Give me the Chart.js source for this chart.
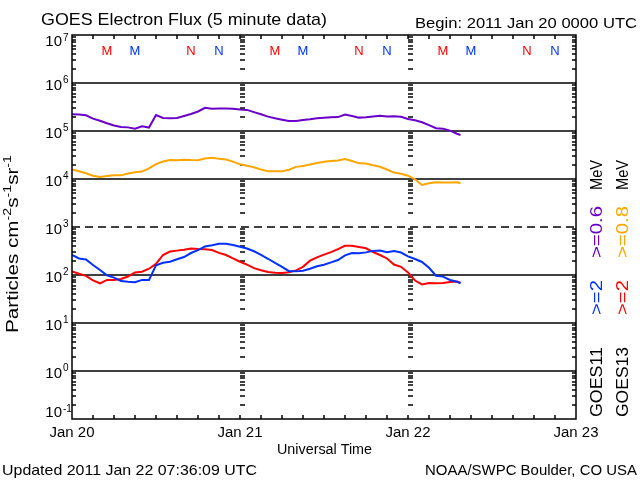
<!DOCTYPE html>
<html>
<head>
<meta charset="utf-8">
<title>GOES Electron Flux</title>
<script src="https://cdn.jsdelivr.net/npm/chart.js@4"></script>
<style>
  html, body { margin: 0; padding: 0; background: #fff; }
  canvas { display: block; }
</style>
</head>
<body>
<canvas id="flux" width="640" height="480"></canvas>
<script>
// Hours since 2011 Jan 20 00:00 UTC
const hours = [0, 1, 2, 3, 4, 5, 6, 7, 8, 9, 10, 11, 12, 13, 14, 15, 16, 17, 18, 19,
    20, 21, 22, 23, 24, 25, 26, 27, 28, 29, 30, 31, 32, 33, 34, 35, 36, 37, 38, 39,
    40, 41, 42, 43, 44, 45, 46, 47, 48, 49, 50, 51, 52, 53, 54, 55, 55.5];

// GOES11 >=0.6 MeV (purple)
const goes11Low = [2.23e5, 2.20e5, 2.13e5, 1.81e5, 1.64e5, 1.45e5, 1.30e5, 1.21e5, 1.19e5, 1.12e5,
    1.25e5, 1.18e5, 2.15e5, 1.87e5, 1.84e5, 1.87e5, 2.05e5, 2.26e5, 2.55e5, 3.04e5,
    2.92e5, 2.96e5, 2.96e5, 2.92e5, 2.79e5, 2.75e5, 2.47e5, 2.23e5, 1.99e5, 1.84e5,
    1.72e5, 1.62e5, 1.62e5, 1.69e5, 1.75e5, 1.84e5, 1.88e5, 1.93e5, 1.95e5, 2.20e5,
    2.05e5, 1.90e5, 1.93e5, 2.01e5, 2.08e5, 2.00e5, 2.03e5, 1.98e5, 1.78e5, 1.67e5,
    1.52e5, 1.33e5, 1.14e5, 1.12e5, 1.02e5, 8.75e4, 8.25e4];

// GOES13 >=0.8 MeV (orange)
const goes13Low = [1.58e4, 1.45e4, 1.32e4, 1.17e4, 1.10e4, 1.15e4, 1.19e4, 1.19e4, 1.30e4, 1.38e4,
    1.43e4, 1.66e4, 2.05e4, 2.32e4, 2.48e4, 2.47e4, 2.51e4, 2.48e4, 2.47e4, 2.67e4,
    2.77e4, 2.65e4, 2.55e4, 2.30e4, 2.02e4, 1.88e4, 1.75e4, 1.57e4, 1.45e4, 1.45e4,
    1.45e4, 1.56e4, 1.79e4, 1.87e4, 2.01e4, 2.15e4, 2.28e4, 2.37e4, 2.44e4, 2.60e4,
    2.37e4, 2.12e4, 2.10e4, 1.93e4, 1.80e4, 1.58e4, 1.36e4, 1.29e4, 1.17e4, 9.86e3,
    7.50e3, 8.13e3, 8.53e3, 8.45e3, 8.45e3, 8.58e3, 8.13e3];

// GOES11 >=2 MeV (blue)
const goes11High = [261, 221, 210, 162, 127, 98.6, 88.3, 74.6, 72.2, 70.8,
    79.1, 79, 159, 180, 189, 213, 237, 287, 329, 394,
    418, 449, 449, 422, 389, 357, 312, 262, 218, 178,
    148, 120, 119, 123, 135, 152, 163, 183, 205, 256,
    287, 283, 296, 318, 324, 297, 316, 294, 244, 215,
    187, 141, 96.7, 92.6, 78.7, 72.2, 67.2];

// GOES13 >=2 MeV (red)
const goes13High = [118, 106, 96.2, 77.2, 67.2, 79, 79, 82.5, 93.1, 113,
    117, 135, 170, 261, 309, 322, 335, 358, 347, 345,
    332, 289, 261, 221, 189, 165, 139, 126, 116, 111,
    110, 114, 125, 148, 199, 233, 265, 299, 345, 406,
    408, 383, 360, 301, 261, 221, 165, 148, 113, 76.8,
    63.7, 68.1, 67.2, 68.1, 71.5, 72.9, 69.2];

const dayHours = [0, 24, 48, 72];
const dayLabels = ['Jan 20', 'Jan 21', 'Jan 22', 'Jan 23'];
const decades = [-1, 0, 1, 2, 3, 4, 5, 6, 7];

// local midnight (M) / noon (N) markers for each satellite
const markHours = [5, 9, 17, 21, 29, 33, 41, 45, 53, 57, 65, 69];
const markText = ['M', 'M', 'N', 'N', 'M', 'M', 'N', 'N', 'M', 'M', 'N', 'N'];
const markSat = [13, 11, 13, 11, 13, 11, 13, 11, 13, 11, 13, 11];

const COLORS = {
    purple: '#6a00c8',
    orange: '#ffa500',
    blue: '#0030ff',
    red: '#ff0000'
};

const FONT = '"Liberation Sans", Arial, sans-serif';

function toPoints(vals) {
    return vals.map((v, i) => ({ x: hours[i], y: v }));
}

// draw text squeezed/stretched to a given width
function fitText(ctx, text, x, y, width, align) {
    const w = ctx.measureText(text).width;
    let left = x;
    if (align === 'right') left = x - width;
    if (align === 'center') left = x - width / 2;
    ctx.save();
    ctx.translate(left, y);
    ctx.scale(width / w, 1);
    ctx.textAlign = 'left';
    ctx.fillText(text, 0, 0);
    ctx.restore();
}

// rotated (bottom to top) text between two screen y positions
function rotText(ctx, text, xBase, yBottom, yTop) {
    const w = ctx.measureText(text).width;
    ctx.save();
    ctx.translate(xBase, yBottom);
    ctx.rotate(-Math.PI / 2);
    ctx.scale((yBottom - yTop) / w, 1);
    ctx.textAlign = 'left';
    ctx.fillText(text, 0, 0);
    ctx.restore();
}

function hLine(ctx, x1, x2, y) {
    ctx.beginPath();
    ctx.moveTo(x1, y);
    ctx.lineTo(x2, y);
    ctx.stroke();
}

function vLine(ctx, x, y1, y2) {
    ctx.beginPath();
    ctx.moveTo(x, y1);
    ctx.lineTo(x, y2);
    ctx.stroke();
}

const fluxFrame = {
    id: 'fluxFrame',
    beforeDatasetsDraw(chart) {
        const { ctx, chartArea: a, scales: { x, y } } = chart;
        ctx.save();
        ctx.strokeStyle = '#000';
        ctx.lineWidth = 1.5;

        // decade lines, 10^3 dashed
        for (let e = 0; e <= 6; e++) {
            const py = Math.round(y.getPixelForValue(Math.pow(10, e)));
            ctx.setLineDash(e === 3 ? [8, 5] : []);
            hLine(ctx, a.left, a.right, py);
        }
        ctx.setLineDash([]);

        // minor log ticks on left/right and at day boundaries
        for (let e = -1; e < 7; e++) {
            for (let m = 2; m <= 9; m++) {
                const py = Math.round(y.getPixelForValue(m * Math.pow(10, e)));
                hLine(ctx, a.left, a.left + 4, py);
                hLine(ctx, a.right - 4, a.right, py);
                [24, 48].forEach(h => {
                    const px = Math.round(x.getPixelForValue(h));
                    hLine(ctx, px, px + 5, py);
                });
            }
        }

        // 3-hour ticks top and bottom
        for (let h = 3; h < 72; h += 3) {
            const px = Math.round(x.getPixelForValue(h));
            vLine(ctx, px, a.top, a.top + 4);
            vLine(ctx, px, a.bottom - 4, a.bottom);
        }
        ctx.restore();
    },
    afterDraw(chart) {
        const { ctx, chartArea: a, scales: { x, y } } = chart;
        ctx.save();
        ctx.strokeStyle = '#000';
        ctx.lineWidth = 1.5;
        ctx.strokeRect(Math.round(a.left), Math.round(a.top),
            Math.round(a.right - a.left), Math.round(a.bottom - a.top));

        ctx.fillStyle = '#000';
        ctx.textBaseline = 'alphabetic';

        // titles
        ctx.font = '17px ' + FONT;
        fitText(ctx, 'GOES Electron Flux (5 minute data)', 41, 25, 286, 'left');
        ctx.font = '14px ' + FONT;
        fitText(ctx, 'Begin: 2011 Jan 20 0000 UTC', 415, 28, 222, 'left');

        // y tick labels 10^n
        decades.forEach(e => {
            const py = y.getPixelForValue(Math.pow(10, e));
            let base = py + 7;
            let supBase = py;
            if (e === 7) { base = 46; supBase = 41; }
            if (e === -1) { base = 417; supBase = 412; }
            ctx.font = '15px ' + FONT;
            ctx.textAlign = 'right';
            ctx.fillText('10', 62, base);
            ctx.font = '10px ' + FONT;
            ctx.textAlign = 'left';
            ctx.fillText(String(e), 63, supBase);
        });

        // x labels
        ctx.font = '14px ' + FONT;
        dayHours.forEach((h, i) => {
            fitText(ctx, dayLabels[i], x.getPixelForValue(h), 437, 45, 'center');
        });
        fitText(ctx, 'Universal Time', 324.5, 454, 95, 'center');

        ctx.font = '15px ' + FONT;
        fitText(ctx, 'Updated 2011 Jan 22 07:36:09 UTC', 2, 475, 255, 'left');
        fitText(ctx, 'NOAA/SWPC Boulder, CO USA', 637, 475, 212, 'right');

        // M / N markers
        ctx.font = '13px ' + FONT;
        ctx.textAlign = 'center';
        markHours.forEach((h, i) => {
            ctx.fillStyle = markSat[i] === 13 ? COLORS.red : COLORS.blue;
            ctx.fillText(markText[i], x.getPixelForValue(h), 55);
        });

        // y axis title with superscripts
        ctx.fillStyle = '#000';
        const pieces = [['Particles cm', 0], ['-2', 1], ['s', 0], ['-1', 1], ['sr', 0], ['-1', 1]];
        const mainFont = '16px ' + FONT;
        const supFont = '11px ' + FONT;
        let total = 0;
        pieces.forEach(p => {
            ctx.font = p[1] ? supFont : mainFont;
            total += ctx.measureText(p[0]).width;
        });
        ctx.save();
        ctx.translate(18, 333);
        ctx.rotate(-Math.PI / 2);
        ctx.scale(178 / total, 1);
        ctx.textAlign = 'left';
        let cx = 0;
        pieces.forEach(p => {
            ctx.font = p[1] ? supFont : mainFont;
            ctx.fillText(p[0], cx, p[1] ? -7 : 0);
            cx += ctx.measureText(p[0]).width;
        });
        ctx.restore();

        // legend columns on the right
        ctx.font = '16px ' + FONT;
        const legend = [
            [602, 'GOES11', '#000', 417, 347],
            [602, '>=2', COLORS.blue, 315, 280],
            [602, '>=0.6', COLORS.purple, 258, 206],
            [602, 'MeV', '#000', 190, 160],
            [628, 'GOES13', '#000', 417, 347],
            [628, '>=2', COLORS.red, 315, 280],
            [628, '>=0.8', COLORS.orange, 258, 206],
            [628, 'MeV', '#000', 190, 160]
        ];
        legend.forEach(l => {
            ctx.fillStyle = l[2];
            rotText(ctx, l[1], l[0], l[3], l[4]);
        });
        ctx.restore();
    }
};

const lineStyle = { borderWidth: 2, pointRadius: 0, tension: 0, fill: false };

new Chart(document.getElementById('flux'), {
    type: 'line',
    data: {
        datasets: [
            { label: 'GOES11 >=0.6 MeV', data: toPoints(goes11Low), borderColor: COLORS.purple, ...lineStyle },
            { label: 'GOES13 >=0.8 MeV', data: toPoints(goes13Low), borderColor: COLORS.orange, ...lineStyle },
            { label: 'GOES11 >=2 MeV', data: toPoints(goes11High), borderColor: COLORS.blue, ...lineStyle },
            { label: 'GOES13 >=2 MeV', data: toPoints(goes13High), borderColor: COLORS.red, ...lineStyle }
        ]
    },
    options: {
        responsive: false,
        animation: false,
        devicePixelRatio: 1,
        layout: { padding: { left: 72, top: 35, right: 64, bottom: 61 } },
        plugins: {
            legend: { display: false },
            tooltip: { enabled: false }
        },
        scales: {
            x: { type: 'linear', min: 0, max: 72, display: false },
            y: { type: 'logarithmic', min: 0.1, max: 1e7, display: false }
        }
    },
    plugins: [fluxFrame]
});
</script>
</body>
</html>
